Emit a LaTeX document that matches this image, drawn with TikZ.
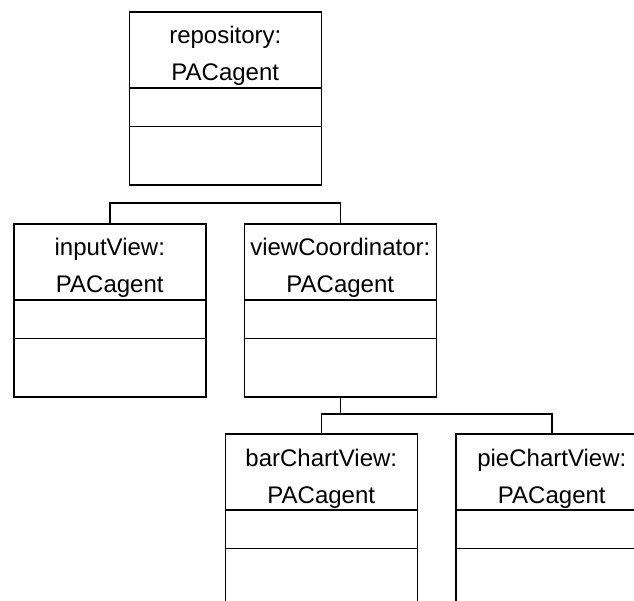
\documentclass[tikz,border=0pt]{standalone}
\usepackage{fontspec}
\setmainfont{Liberation Sans}
\usetikzlibrary{calc}
\begin{document}
\begin{tikzpicture}[x=1pt,y=-1pt,
  umlbox/.style={draw, line width=1.6pt, rectangle, anchor=north west,
    minimum width=192pt, minimum height=173pt, inner sep=0pt},
  umltext/.style={anchor=base, inner sep=0pt, font=\fontsize{24}{28}\selectfont},
  link/.style={draw, line width=1.6pt}]
\useasboundingbox (0,0) rectangle (634,601);
\clip (0,0) rectangle (634,601);

% object boxes: name compartment, attribute and operation compartments
\foreach \id/\x/\y/\name in {repo/128.5/11/repository:,
                             input/13/223/inputView:,
                             coord/243.5/223/viewCoordinator:,
                             bar/224.5/433/barChartView:,
                             pie/455/433/pieChartView:}{
  \node[umlbox] (\id) at (\x,\y) {};
  \draw[line width=1.6pt] ($(\id.north west)+(0,77)$) -- ($(\id.north east)+(0,77)$);
  \draw[line width=1.6pt] ($(\id.north west)+(0,115.5)$) -- ($(\id.north east)+(0,115.5)$);
  \node[umltext] (\id-name) at ($(\id.north)+(0,33)$) {\name};
  \node[umltext] (\id-type) at ($(\id.north)+(0,70)$) {PACagent};
}

% tree connectors
\coordinate (bus1) at (224.5,203);
\coordinate (bus2) at (340,414);
\draw[link] (input.north) |- (bus1) -| (coord.north);
\draw[link] (coord.south) -- (coord.south |- bus2);
\draw[link] (bar.north) |- (bus2) -| (pie.north);
\end{tikzpicture}
\end{document}
